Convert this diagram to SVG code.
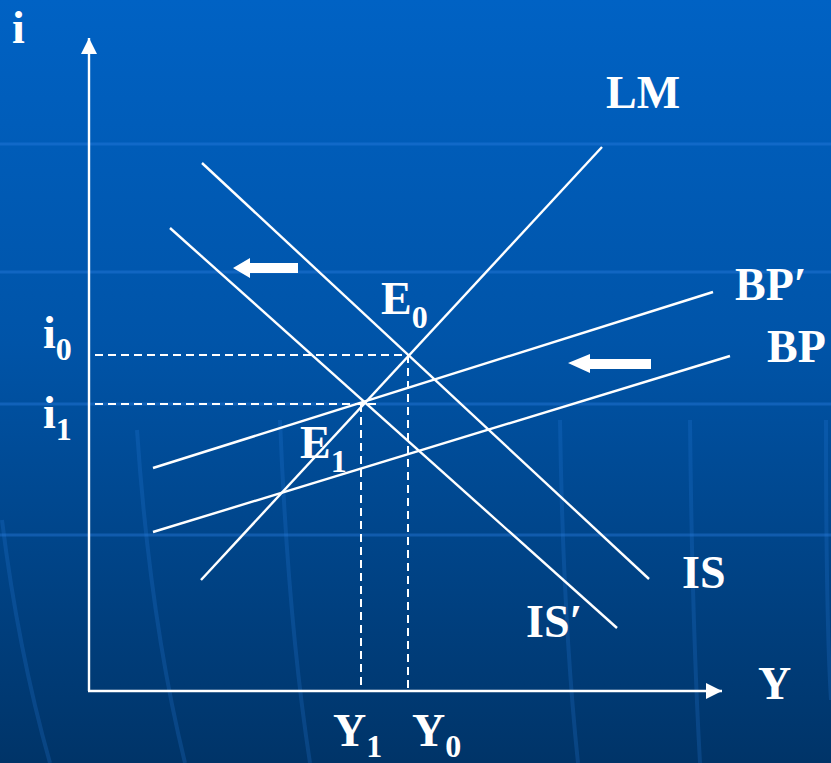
<svg xmlns="http://www.w3.org/2000/svg" width="831" height="763" viewBox="0 0 831 763">
<defs>
<linearGradient id="bg" x1="0" y1="0" x2="0" y2="1">
<stop offset="0" stop-color="#0062c4"/>
<stop offset="0.45" stop-color="#0054a8"/>
<stop offset="1" stop-color="#003468"/>
</linearGradient>
<marker id="ah" viewBox="0 0 16 16" refX="16" refY="8" markerWidth="16" markerHeight="16" markerUnits="userSpaceOnUse" orient="auto">
<path d="M0,0 L16,8 L0,16 Z" fill="#fff"/>
</marker>
<style>
.ln{stroke:#fff;stroke-width:2.4;fill:none;stroke-linecap:butt}
.ax{stroke:#fff;stroke-width:2.4;fill:none}
.ds{stroke:#fff;stroke-width:2;fill:none;stroke-dasharray:8 5}
.t{font-family:"Liberation Serif","Times New Roman",serif;font-weight:bold;fill:#fff;font-size:46px}
.s{font-size:32px}
.gl{stroke:#2a7ee0;stroke-opacity:0.4;stroke-width:3;fill:none}
.gv{stroke:#2a7ee0;stroke-opacity:0.22;stroke-width:4;fill:none}
</style>
</defs>
<rect width="831" height="763" fill="url(#bg)"/>
<g id="background-grid">
<line class="gl" x1="0" y1="144" x2="831" y2="144"/>
<line class="gl" x1="0" y1="272" x2="831" y2="272"/>
<line class="gl" x1="0" y1="404" x2="831" y2="404"/>
<line class="gl" x1="0" y1="535" x2="831" y2="535"/>
<path class="gv" d="M2,520 Q18,650 50,763"/>
<path class="gv" d="M137,430 Q150,620 185,763"/>
<path class="gv" d="M280,420 Q288,620 310,763"/>
<path class="gv" d="M560,420 Q563,620 578,763"/>
<path class="gv" d="M690,420 Q692,620 700,763"/>
<path class="gv" d="M826,420 Q826,620 831,700"/>
</g>
<g id="axes">
<line class="ax" x1="89" y1="691" x2="89" y2="38" marker-end="url(#ah)"/>
<line class="ax" x1="88" y1="691" x2="722" y2="691" marker-end="url(#ah)"/>
</g>
<g id="connectors">
<line id="LM" class="ln" x1="201" y1="580" x2="602" y2="147"/>
<line id="IS" class="ln" x1="202" y1="163" x2="649" y2="579"/>
<line id="ISp" class="ln" x1="170" y1="228" x2="617" y2="628"/>
<line id="BPp" class="ln" x1="153" y1="468" x2="713" y2="292"/>
<line id="BP" class="ln" x1="153" y1="532" x2="730" y2="356"/>
<line class="ds" x1="95" y1="355" x2="408" y2="355"/>
<line class="ds" x1="95" y1="404" x2="378" y2="404"/>
<line class="ds" x1="361" y1="404" x2="361" y2="690"/>
<line class="ds" x1="408" y1="355" x2="408" y2="690"/>
</g>
<g id="shift-arrows" fill="#fff">
<path d="M233,268 L250,258 L250,263 L298,263 L298,273 L250,273 L250,278 Z"/>
<path d="M568,363 L590,354 L590,359 L651,359 L651,369 L590,369 L590,373 Z"/>
</g>
<g id="labels">
<text class="t" x="12" y="43">i</text>
<text class="t" x="758" y="699">Y</text>
<text class="t" x="606" y="108">LM</text>
<text class="t" x="735" y="300">BP′</text>
<text class="t" x="767" y="362">BP</text>
<text class="t" x="682" y="588">IS</text>
<text class="t" x="526" y="637">IS′</text>
<text class="t" x="381" y="314">E<tspan class="s" dy="14">0</tspan></text>
<text class="t" x="300" y="458">E<tspan class="s" dy="14">1</tspan></text>
<text class="t" x="43" y="348">i<tspan class="s" dy="12">0</tspan></text>
<text class="t" x="43" y="428">i<tspan class="s" dy="12">1</tspan></text>
<text class="t" x="333" y="746">Y<tspan class="s" dy="11">1</tspan></text>
<text class="t" x="412" y="746">Y<tspan class="s" dy="11">0</tspan></text>
</g>
</svg>
